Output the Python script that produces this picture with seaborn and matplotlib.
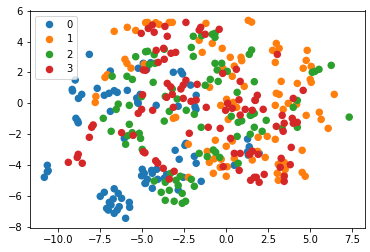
import matplotlib
matplotlib.use("Agg")
import matplotlib.pyplot as plt
import pandas as pd
import seaborn as sns

x0 = [-8.15,-6.9,-8.99,-9.17,-9.15,-7.68,-8.6,-8.8,-7.26,-6.98,-6.67,-6.49,-5.89,-6.9,-5.33,-5.27,-5.1,-4.94,-5.24,-4.94,
      -8.95,-8.85,-8.81,-6.07,-10.65,-10.6,-10.65,-10.83,-6.67,-7.26,-7.5,-6.43,-6.23,-5.77,-5.75,-6.73,-6.96,-7.12,-7.02,-6.37,
      -6.49,-6.67,-6.86,-5.99,-5.0,-5.04,-4.84,-4.88,-4.5,-4.74,-3.15,-2.7,-2.6,-2.12,-5.12,-5.24,-4.17,-2.86,-1.79,-1.86,
      -1.8,-2.4,-2.46,-3.04,-2.8,-1.9,-1.79,-4.44,-4.4,-4.14,-3.55,-3.69,-4.7,-4.8,-4.08,-4.4,-2.56,-2.86,-1.49,1.27,
      1.37,1.27,1.31,0.48,1.96]
y0 = [3.17,2.09,1.51,0.9,0.8,0.97,0.58,0.32,0.52,0.65,0.82,0.71,0.84,-0.52,0.34,0.06,0.56,2.59,2.27,2.27,
      -0.97,-1.13,-1.26,-2.27,-4.01,-4.36,-4.43,-4.79,-5.53,-5.76,-6.02,-5.83,-6.15,-6.41,-6.73,-6.19,-6.41,-6.8,-6.91,-6.69,
      -6.91,-7.12,-6.58,-7.44,-4.27,-4.69,-5.18,-4.53,2.63,2.2,2.01,2.07,1.9,1.18,0.58,0.0,-0.13,-0.19,0.52,-0.22,
      -0.39,-2.59,-2.72,-3.04,-3.62,-3.43,-3.88,-4.34,-4.53,-4.27,-4.6,-4.85,-4.92,-5.18,-4.92,-5.5,-4.79,-5.61,-5.05,-2.31,
      -2.81,-3.13,-3.35,-4.01,-3.24]

x1 = [-6.67,-5.89,-5.39,-6.03,-5.91,-5.67,-7.08,-7.22,-7.76,-7.8,-4.8,-4.88,-4.68,-4.2,-4.0,-3.39,-3.21,-1.21,-1.61,-0.83,
      -1.43,-0.24,0.24,0.88,0.92,0.48,-0.2,0.36,1.07,-0.99,1.31,1.51,0.02,-0.33,0.42,0.32,0.62,0.12,-3.15,-3.01,
      -2.26,-0.65,0.0,-1.13,0.48,1.55,-0.71,-1.01,-0.3,-0.36,0.06,-0.77,0.0,-2.26,0.12,0.36,2.98,2.76,3.15,2.92,
      4.82,4.76,5.06,4.58,5.0,5.06,3.27,4.23,2.98,3.15,6.43,2.92,3.69,3.39,4.19,4.76,5.54,5.65,6.07,1.9,
      2.44,2.92,4.52,1.87,2.32,3.1,3.45,3.51,3.04,4.52,4.7,3.1,3.45]
y1 = [4.66,4.92,4.72,2.85,2.59,2.28,1.85,1.68,0.45,0.06,5.22,2.54,5.24,5.22,5.11,5.24,5.24,5.18,4.08,3.88,
      3.3,3.56,2.98,2.98,2.76,2.41,2.27,1.75,1.1,1.04,5.37,5.26,0.26,-0.13,0.06,-0.22,-0.26,0.0,-0.97,-0.91,
      -2.65,-2.39,-2.78,-3.11,-3.56,-3.67,-3.59,-3.82,-3.62,-4.14,-4.1,-4.53,-4.72,-4.79,-1.04,-2.44,3.88,3.43,3.56,2.65,
      3.43,2.78,2.39,2.27,1.55,1.36,1.42,1.29,0.65,0.58,0.58,-0.13,0.0,-0.39,-0.06,-0.78,-0.58,-1.04,-1.62,-2.2,
      -2.14,-2.33,-3.04,-3.11,-3.5,-3.95,-3.82,-4.27,-4.53,-4.47,-4.72,-4.98,-4.66]

x2 = [-5.39,-6.79,-5.91,-5.59,-6.43,-6.55,-5.77,-7.32,-5.04,-4.8,-5.77,-6.85,-5.6,-5.87,-5.18,-5.1,-5.99,-5.0,-1.96,-0.67,
      -0.83,-0.67,-1.46,-2.08,-1.96,-4.68,-4.29,-3.69,-4.58,-4.24,-0.67,-0.27,-0.54,0.06,-0.95,-0.48,-1.25,-4.35,-3.21,0.65,
      -3.63,-2.92,-2.38,-3.39,-1.9,0.3,-3.69,1.51,1.37,1.67,-1.49,0.65,1.43,0.71,0.92,1.51,1.67,-1.61,-0.77,-0.63,
      -1.13,-0.39,0.71,-4.29,-3.63,-3.31,-2.74,-2.99,-2.86,-2.08,-1.9,-3.87,-3.39,-2.62,-3.63,-3.1,-2.42,-2.62,5.52,5.28,
      5.12,6.25,4.23,3.99,7.32,1.43,1.67,2.38,4.23,3.33,2.14]
y2 = [3.02,1.75,1.75,1.55,-0.05,-0.39,-0.13,-0.97,0.43,3.34,-1.36,-1.81,-1.9,-2.1,-1.94,-2.27,-2.65,-2.98,4.34,4.53,
      4.47,4.27,4.38,3.62,3.04,3.37,3.15,3.5,2.52,2.59,2.59,2.59,2.16,2.07,1.55,1.42,1.17,1.36,0.93,0.71,
      0.45,0.28,-0.45,-0.52,-0.71,-0.84,-1.15,3.45,3.17,1.4,-1.55,-2.14,-2.0,-1.23,-1.13,-0.74,-1.55,-3.24,-3.02,-3.17,
      -3.45,-3.5,-3.88,-5.03,-5.11,-4.53,-4.72,-4.98,-5.31,-4.92,-5.37,-5.76,-5.63,-5.83,-6.28,-6.34,-6.34,-6.47,2.2,2.07,
      2.01,2.46,0.19,-0.26,-0.89,-0.78,-0.65,-1.1,-1.55,-1.62,-1.81]

x3 = [-5.06,-4.94,-4.98,-5.04,-5.24,-7.92,-8.01,-8.15,-6.23,-5.54,-8.81,-8.87,-9.4,-8.57,-4.94,-4.64,-4.4,-3.65,-2.4,-4.29,
      -3.51,-1.61,-1.52,-1.25,-0.42,-4.17,-3.73,-3.29,-3.01,-3.69,-4.05,-4.8,-3.51,-3.31,-2.4,-2.56,-2.7,-1.73,-3.21,-3.55,
      -2.56,-2.1,-1.79,-3.15,-1.19,-4.38,0.6,-0.21,0.83,0.76,0.08,-0.04,0.36,0.83,1.13,1.55,1.71,-2.2,-1.07,-0.36,
      0.26,-4.84,-4.2,-4.08,-3.75,-3.1,-3.39,-0.18,0.48,0.83,1.41,1.55,0.77,1.45,1.67,3.04,4.58,1.85,1.73,3.99,
      2.2,3.33,3.93,4.23,3.99,3.45,2.98,3.39,3.87,3.27,3.81,3.21,2.26,1.79,1.96,3.45,3.45,1.37,1.9]
y3 = [4.53,2.16,0.56,-0.39,-0.65,-1.4,-1.55,-2.2,-1.9,-2.07,-3.3,-3.5,-3.82,-3.88,-3.13,4.85,5.07,4.98,5.24,4.6,
      4.34,4.74,4.92,4.47,4.79,3.43,3.56,3.24,3.3,2.85,2.65,2.14,1.29,1.07,1.49,1.18,0.93,1.23,0.58,0.39,
      0.32,0.13,0.21,-0.26,-0.26,-0.45,2.2,1.94,1.42,0.23,0.0,-0.45,-0.32,-0.76,-0.39,-0.45,0.21,-1.94,-1.55,-1.62,
      -2.27,-3.2,-3.72,-3.88,-4.21,-4.4,-4.9,-4.1,-3.24,-3.24,-3.28,-3.09,-4.34,-4.98,-4.79,3.17,0.84,0.52,0.19,0.32,
      -0.39,-0.78,-0.97,-1.23,-1.29,-1.29,-1.49,-1.81,-2.85,-3.56,-3.97,-4.14,-4.6,-4.79,-5.11,-4.72,-5.05,-3.3,-3.3]

labels = ["0", "1", "2", "3"]
xs = [x0, x1, x2, x3]
ys = [y0, y1, y2, y3]

df = pd.concat(
    [pd.DataFrame({"x": a, "y": b, "group": g}) for a, b, g in zip(xs, ys, labels)],
    ignore_index=True,
)

W, H = 370, 252
fig = plt.figure(figsize=(W / 72, H / 72), dpi=72)
ax = fig.add_axes([29.7 / W, (H - 228.0) / H, 334.8 / W, 217.5 / H])
sns.scatterplot(
    data=df, x="x", y="y", hue="group", hue_order=labels, palette="tab10",
    s=36, linewidth=1.5, edgecolor="face", ax=ax,
)
ax.set_xlim(-11.70, 8.23)
ax.set_ylim(-8.07, 6.01)
ax.set_xlabel("")
ax.set_ylabel("")
handles, leg_labels = ax.get_legend_handles_labels()
for h in handles:
    h.set_markersize(6)
    h.set_markeredgewidth(1.5)
ax.legend(handles, leg_labels, loc="upper left")
fig.savefig("out.png", dpi=72)
